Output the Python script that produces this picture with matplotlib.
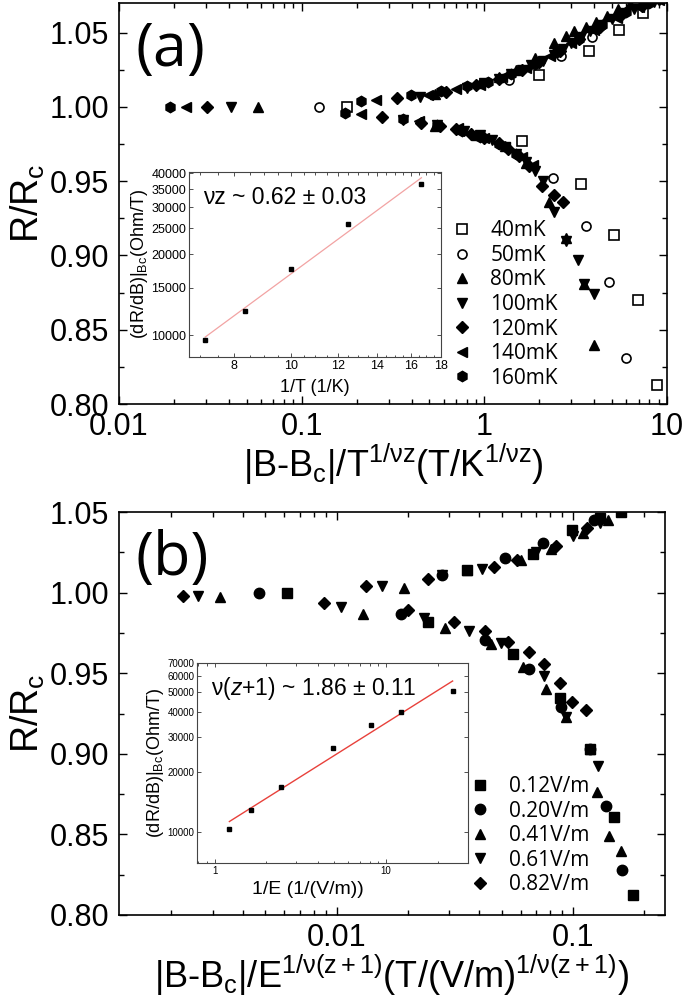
import numpy as np
import matplotlib
matplotlib.use("Agg")
import matplotlib.pyplot as plt
from matplotlib.ticker import (MultipleLocator, LogLocator, NullFormatter, NullLocator,
                               FuncFormatter, FixedLocator)

# ---------------- data: panel (a) ----------------
t40_x = [0.177, 1.60, 3.4, 5.1, 6.9, 8.8, 1.98, 3.72, 5.43, 7.36]
t40_y = [1.000, 0.977, 0.948, 0.914, 0.870, 0.813, 1.0215, 1.038, 1.052, 1.063]
t50_x = [0.125, 1.37, 2.62, 3.89, 2.38, 3.6, 4.8, 6.0]
t50_y = [1.000, 1.018, 1.034, 1.047, 0.952, 0.920, 0.882, 0.831]
t80_x = [0.058, 0.54, 0.95, 1.2, 1.5, 1.9, 2.4, 2.8, 3.1, 3.6, 4.1, 4.7, 5.4, 6.3, 7.5,
         0.54, 0.9, 1.3, 1.7, 2.25, 2.8, 3.5, 3.98]
t80_y = [1.000, 1.009, 1.016, 1.020, 1.025, 1.033, 1.043, 1.048, 1.051, 1.054, 1.057, 1.061, 1.066, 1.069, 1.073,
         0.987, 0.981, 0.974, 0.962, 0.936, 0.912, 0.881, 0.840]
t100_x = [0.041, 0.446, 0.8, 1.0, 1.2, 1.4, 1.6, 1.8, 2.1, 2.4, 2.7, 3.0, 3.4, 3.8, 4.4, 5.0, 5.8, 6.6, 7.5, 8.5,
          0.36, 0.55, 0.77, 0.95, 1.1, 1.3, 1.5, 1.7, 1.9, 2.1, 2.4, 2.8, 3.25, 3.5, 3.98]
t100_y = [1.000, 1.007, 1.013, 1.016, 1.019, 1.022, 1.025, 1.028, 1.031, 1.035, 1.039, 1.043, 1.047, 1.051,
          1.055, 1.059, 1.063, 1.066, 1.069, 1.071,
          0.9915, 0.988, 0.984, 0.981, 0.978, 0.973, 0.968, 0.963, 0.957, 0.950, 0.929, 0.910, 0.897, 0.881, 0.874]
t120_x = [0.0305, 0.333, 0.62, 0.9, 1.2, 1.6, 2.0, 2.6, 3.3, 4.3, 5.6, 7.3, 9.0,
          0.277, 0.45, 0.57, 0.7, 0.85, 1.0, 1.2, 1.35, 1.55, 1.75, 2.07, 2.4, 2.7]
t120_y = [1.000, 1.006, 1.010, 1.015, 1.019, 1.025, 1.030, 1.038, 1.046, 1.054, 1.062, 1.068, 1.073,
          0.993, 0.989, 0.987, 0.985, 0.982, 0.979, 0.976, 0.972, 0.967, 0.960, 0.947, 0.941, 0.936]
t140_x = [0.0233, 0.256, 0.49, 0.7, 0.95, 1.25, 1.7, 2.3, 3.0, 4.0, 5.3, 7.0, 9.0,
          0.212, 0.44, 0.72, 1.0, 1.3, 1.6, 1.84]
t140_y = [1.000, 1.005, 1.008, 1.012, 1.015, 1.020, 1.026, 1.034, 1.043, 1.052, 1.060, 1.067, 1.072,
          0.995, 0.9906, 0.986, 0.979, 0.973, 0.966, 0.961]
t160_x = [0.0189, 0.212, 0.397, 0.58, 0.8, 1.05, 1.4, 1.9, 2.5, 3.3, 4.4, 6.0, 8.0,
          0.172, 0.36, 0.55, 0.75, 0.95, 1.2, 1.5]
t160_y = [1.000, 1.004, 1.008, 1.011, 1.014, 1.017, 1.022, 1.029, 1.037, 1.046, 1.055, 1.064, 1.070,
          0.996, 0.992, 0.988, 0.984, 0.980, 0.975, 0.968]
temp_labels = ["40mK", "50mK", "80mK", "100mK", "120mK", "140mK", "160mK"]

# inset (a)
insA_x = [7.14, 8.33, 10.0, 12.5, 16.67]
insA_y = [9580, 12350, 17580, 25950, 36470]
insA_xticks = [8, 10, 12, 14, 16, 18]
insA_yticks = [10000, 15000, 20000, 25000, 30000, 35000, 40000]

# ---------------- data: panel (b) ----------------
e12_x = [0.00617, 0.0357, 0.0676, 0.099, 0.13, 0.16,
         0.0244, 0.0557, 0.0879, 0.1177, 0.1493, 0.179]
e12_y = [1.000, 1.014, 1.0237, 1.039, 1.046, 1.050,
         0.982, 0.9618, 0.9346, 0.9032, 0.861, 0.8125]
e20_x = [0.00471, 0.028, 0.0514, 0.0749, 0.123,
         0.0188, 0.0424, 0.0652, 0.0887, 0.1177, 0.1374, 0.1607]
e20_y = [1.000, 1.0107, 1.0217, 1.031, 1.045,
         0.9866, 0.9708, 0.9523, 0.9291, 0.903, 0.8675, 0.8281]
e41_x = [0.00322, 0.0193, 0.0357, 0.06, 0.081, 0.11, 0.14,
         0.0129, 0.0287, 0.045, 0.0617, 0.0768, 0.0935, 0.1177, 0.126, 0.1425, 0.159]
e41_y = [0.997, 1.003, 1.014, 1.0205, 1.027, 1.037, 1.045,
         0.987, 0.978, 0.968, 0.954, 0.940, 0.923, 0.903, 0.8765, 0.8487, 0.8394]
e61_x = [0.00258, 0.0156, 0.028, 0.0414, 0.07, 0.1, 0.13,
         0.0104, 0.0235, 0.0364, 0.0495, 0.0754, 0.0935, 0.1277]
e61_y = [0.998, 1.004, 1.0107, 1.0146, 1.025, 1.035, 1.043,
         0.9908, 0.984, 0.976, 0.969, 0.948, 0.923, 0.8925]
e82_x = [0.00223, 0.0133, 0.0244, 0.0462, 0.058, 0.085, 0.115,
         0.0088, 0.020, 0.0313, 0.0424, 0.0533, 0.0652, 0.0754, 0.0879, 0.0989, 0.1138]
e82_y = [0.998, 1.0038, 1.0086, 1.0156, 1.020, 1.029, 1.040,
         0.9933, 0.989, 0.982, 0.976, 0.9695, 0.963, 0.9555, 0.9437, 0.932, 0.927]
field_labels = ["0.12V/m", "0.20V/m", "0.41V/m", "0.61V/m", "0.82V/m"]

# inset (b)
insB_x = [1.22, 1.64, 2.44, 4.88, 8.2, 12.2, 24.4]
insB_y = [10390, 12950, 16820, 26180, 34280, 39690, 50970]
insB_xticks = [1, 10]
insB_yticks = [10000, 20000, 30000, 40000, 50000, 60000, 70000]

# ---------------- style ----------------
plt.rcParams['font.family'] = ['Liberation Sans', 'DejaVu Sans']
plt.rcParams['mathtext.fontset'] = 'custom'
plt.rcParams['mathtext.rm'] = 'Liberation Sans'
plt.rcParams['mathtext.it'] = 'Liberation Sans:italic'
plt.rcParams['mathtext.default'] = 'regular'

W, H = 685, 1007
fig = plt.figure(figsize=(W / 100, H / 100), dpi=100)


def box(x0, y0, x1, y1):
    return [x0 / W, 1 - y1 / H, (x1 - x0) / W, (y1 - y0) / H]


axA = fig.add_axes(box(119, 3, 667, 404))
axB = fig.add_axes(box(119, 512, 665, 915))


def style_main(ax):
    ax.tick_params(which='both', direction='in', top=True, right=True, width=1.0, labelsize=22)
    ax.tick_params(axis='x', pad=6)
    ax.tick_params(axis='y', pad=7)
    ax.tick_params(which='major', length=6)
    ax.tick_params(which='minor', length=3.5)
    for s in ax.spines.values():
        s.set_linewidth(1.2)
    ax.yaxis.set_major_locator(MultipleLocator(0.05))
    ax.yaxis.set_minor_locator(MultipleLocator(0.025))
    ax.yaxis.set_major_formatter(FuncFormatter(lambda v, p: f"{v:.2f}"))
    ax.set_xscale('log')
    ax.xaxis.set_major_locator(LogLocator(base=10))
    ax.xaxis.set_minor_locator(LogLocator(base=10, subs=np.arange(2, 10)))
    ax.xaxis.set_minor_formatter(NullFormatter())
    ax.xaxis.set_major_formatter(FuncFormatter(lambda v, p: f"{v:g}"))


ms = 7.5
kw_fill = dict(ls='none', color='black', ms=ms)
kw_open = dict(ls='none', mfc='white', mec='black', mew=1.2, ms=6.5)
leg_kw = dict(frameon=False, borderpad=0, borderaxespad=0, handlelength=1.0,
              handletextpad=0.85, labelspacing=0.17, prop=dict(family='Open Sans', size=15))

# ---- panel (a)
style_main(axA)
sA = [
    (t40_x, t40_y, 's', kw_open),
    (t50_x, t50_y, 'o', kw_open),
    (t80_x, t80_y, '^', kw_fill),
    (t100_x, t100_y, 'v', kw_fill),
    (t120_x, t120_y, 'D', dict(kw_fill, ms=6.5)),
    (t140_x, t140_y, '<', kw_fill),
    (t160_x, t160_y, 'h', kw_fill),
]
for (x, y, m, kw), lab in zip(sA, temp_labels):
    axA.plot(x, y, marker=m, label=lab, **kw)
axA.set_xlim(0.01, 10)
axA.set_ylim(0.80, 1.07)
axA.set_ylabel("R/R$_c$", fontsize=27, labelpad=2)
axA.set_xlabel("|B-B$_c$|/T$^{1/νz}$(T/K$^{1/νz}$)", fontsize=26, labelpad=0)
axA.text(0.03, 0.883, "(a)", transform=axA.transAxes, fontsize=44, family='Open Sans',
         va='center', ha='left')
axA.legend(loc='upper left', bbox_to_anchor=(0.607, 0.458), **leg_kw)

# ---- panel (b)
style_main(axB)
sB = [
    (e12_x, e12_y, 's', dict(kw_fill, ms=6.5)),
    (e20_x, e20_y, 'o', kw_fill),
    (e41_x, e41_y, '^', kw_fill),
    (e61_x, e61_y, 'v', kw_fill),
    (e82_x, e82_y, 'D', dict(kw_fill, ms=6.5)),
]
for (x, y, m, kw), lab in zip(sB, field_labels):
    axB.plot(x, y, marker=m, label=lab, **kw)
axB.set_xlim(0.0012, 0.245)
axB.set_ylim(0.80, 1.05)
axB.set_ylabel("R/R$_c$", fontsize=27, labelpad=2)
axB.set_xlabel("|B-B$_c$|/E$^{1/ν(z+1)}$(T/(V/m)$^{1/ν(z+1)}$)", fontsize=26, labelpad=0)
axB.text(0.03, 0.883, "(b)", transform=axB.transAxes, fontsize=44, family='Open Sans',
         va='center', ha='left')
axB.legend(loc='upper left', bbox_to_anchor=(0.643, 0.345), **leg_kw)


def style_inset(ax, labsize):
    ax.set_xscale('log')
    ax.set_yscale('log')
    ax.tick_params(which='both', direction='in', top=True, right=True, width=0.6, labelsize=labsize, pad=2,
                   color='#333333')
    ax.tick_params(which='major', length=3)
    ax.tick_params(which='minor', length=1.8)
    for s in ax.spines.values():
        s.set_linewidth(0.8)
        s.set_color('#444444')


def fit_line(ax, x, y, color, lw):
    lx, ly = np.log10(x), np.log10(y)
    k, b = np.polyfit(lx, ly, 1)
    xs = np.array([min(x), max(x)])
    ax.plot(xs, 10 ** (k * np.log10(xs) + b), color=color, lw=lw, zorder=1)


# ---- inset (a)
iA = fig.add_axes(box(189, 172, 441, 357))
style_inset(iA, 9)
fit_line(iA, insA_x, insA_y, '#f2a3a3', 0.9)
iA.plot(insA_x, insA_y, ls='none', marker='s', ms=2.8, color='black', zorder=3)
iA.set_xlim(6.7, 18)
iA.set_ylim(8300, 40500)
iA.set_xticks(insA_xticks, labels=[str(v) for v in insA_xticks])
iA.xaxis.set_minor_locator(FixedLocator(np.arange(7.0, 18.0, 0.5)))
iA.xaxis.set_minor_formatter(NullFormatter())
iA.set_yticks(insA_yticks, labels=[str(v) for v in insA_yticks])
iA.yaxis.set_minor_locator(NullLocator())
iA.set_xlabel("1/T (1/K)", fontsize=13, labelpad=5)
iA.set_ylabel("(dR/dB)|$_{Bc}$(Ohm/T)", fontsize=13, labelpad=1)
iA.text(0.055, 0.86, "νz ~ 0.62 ± 0.03", transform=iA.transAxes, fontsize=16.5, va='center', ha='left')

# ---- inset (b)
iB = fig.add_axes(box(197, 663, 468, 863))
style_inset(iB, 7)
fit_line(iB, insB_x, insB_y, '#e8413b', 1.0)
iB.plot(insB_x, insB_y, ls='none', marker='s', ms=2.8, color='black', zorder=3)
iB.set_xlim(0.79, 30)
iB.set_ylim(7000, 70000)
iB.set_xticks(insB_xticks, labels=[str(v) for v in insB_xticks])
iB.xaxis.set_minor_locator(LogLocator(base=10, subs=np.arange(2, 10)))
iB.xaxis.set_minor_formatter(NullFormatter())
iB.set_yticks(insB_yticks, labels=[str(v) for v in insB_yticks])
iB.yaxis.set_minor_locator(NullLocator())
iB.set_xlabel("1/E (1/(V/m))", fontsize=14, labelpad=1)
iB.xaxis.set_label_coords(0.41, -0.09)
iB.set_ylabel("(dR/dB)|$_{Bc}$(Ohm/T)", fontsize=13, labelpad=1)
iB.text(0.05, 0.87, "ν$\\mathit{(z{+}1)}$ ~ 1.86 ± 0.11", transform=iB.transAxes, fontsize=16.5,
        va='center', ha='left')

fig.savefig("out.png", dpi=100)
